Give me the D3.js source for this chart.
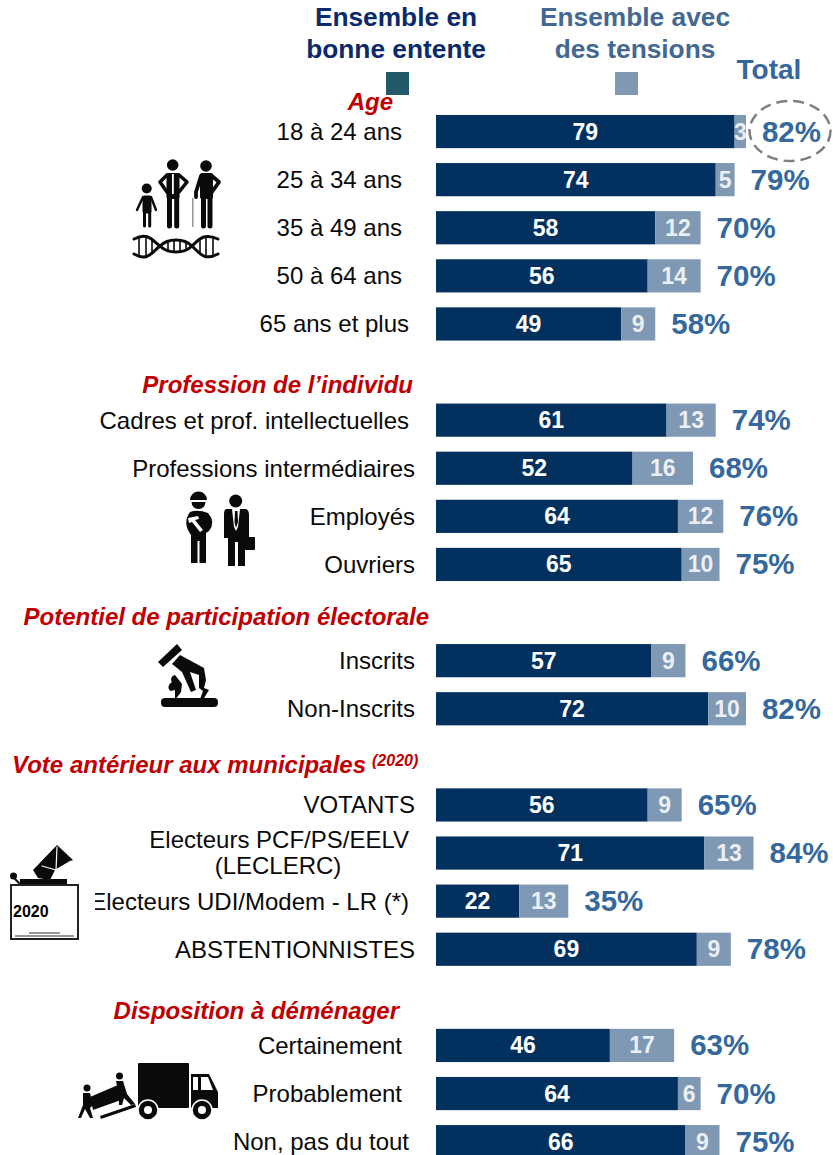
<!DOCTYPE html>
<html><head><meta charset="utf-8">
<script src="https://cdn.jsdelivr.net/npm/d3@7"></script>
<style>html,body{margin:0;padding:0;background:#fff;overflow:hidden}svg{display:block}text{font-family:"Liberation Sans",Arial,sans-serif}</style>
</head><body><svg id="c" width="833" height="1155"></svg>
<script>
const categories=["18 à 24 ans","25 à 34 ans","35 à 49 ans","50 à 64 ans","65 ans et plus",
"Cadres et prof. intellectuelles","Professions intermédiaires","Employés","Ouvriers",
"Inscrits","Non-Inscrits",
"VOTANTS","Electeurs PCF/PS/EELV","Electeurs UDI/Modem - LR (*)","ABSTENTIONNISTES",
"Certainement","Probablement","Non, pas du tout"];
const rowIndex=[0,1,2,3,4,6,7,8,9,11,12,14,15,16,17,19,20,21];
const bonneEntente=[79,74,58,56,49,61,52,64,65,57,72,56,71,22,69,46,64,66];
const avecTensions=[3,5,12,14,9,13,16,12,10,9,10,9,13,13,9,17,6,9];
const totals=[82,79,70,70,58,74,68,76,75,66,82,65,84,35,78,63,70,75];
const labelRight=[402,402,402,402,409,409,415,415,415,415,415,415,409,409,415,402,402,409];
const sections=["Age","Profession de l’individu","Potentiel de participation électorale","Vote antérieur aux municipales","Disposition à déménager"];
const sectionRight=[393,413,429,366,399];
const sectionY=[110,393,625,773,1019];

const svg=d3.select("#c");
const x=d3.scaleLinear().domain([0,100]).range([436,814]);
const y=d3.scaleBand().domain(d3.range(22)).range([107.5,1165.7]).paddingInner(0.31).paddingOuter(0.155);
const NAVY="#03315f",LIGHT="#7f99b4",BLUE="#35689c",RED="#c00000";

// headers
const hdr=(t,cx,yy,col)=>svg.append("text").attr("x",cx).attr("y",yy).attr("text-anchor","middle").attr("font-weight","700").attr("font-size",26.3).attr("fill",col).text(t);
hdr("Ensemble en",396,26,"#0b2a6b");hdr("bonne entente",396,58,"#0b2a6b");
hdr("Ensemble avec",635,26,"#436892");hdr("des tensions",635,58,"#436892");
svg.append("text").attr("x",769).attr("y",79).attr("text-anchor","middle").attr("font-weight","700").attr("font-size",28).attr("fill",BLUE).text("Total");
svg.append("rect").attr("x",386).attr("y",72).attr("width",23).attr("height",23).attr("fill","#235a6b");
svg.append("rect").attr("x",615).attr("y",72).attr("width",23).attr("height",23).attr("fill",LIGHT);

// sections
sections.forEach((s,i)=>svg.append("text").attr("x",sectionRight[i]).attr("y",sectionY[i]).attr("text-anchor","end")
 .attr("font-weight","700").attr("font-style","italic").attr("font-size",24).attr("fill",RED).text(s));
svg.append("text").attr("x",372).attr("y",766).attr("font-weight","700").attr("font-style","italic").attr("font-size",16).attr("fill",RED).text("(2020)");

// bars
const rows=svg.append("g").selectAll("g").data(categories).join("g");
rows.append("rect").attr("x",x(0)).attr("y",(d,i)=>y(rowIndex[i])).attr("height",y.bandwidth())
 .attr("width",(d,i)=>x(bonneEntente[i])-x(0)).attr("fill",NAVY);
rows.append("rect").attr("x",(d,i)=>x(bonneEntente[i])).attr("y",(d,i)=>y(rowIndex[i])).attr("height",y.bandwidth())
 .attr("width",(d,i)=>x(avecTensions[i])-x(0)).attr("fill",LIGHT);
const mid=i=>y(rowIndex[i])+y.bandwidth()/2;
rows.append("text").attr("x",(d,i)=>x(bonneEntente[i]/2)).attr("y",(d,i)=>mid(i)+8).attr("text-anchor","middle")
 .attr("font-weight","700").attr("font-size",23).attr("fill","#fff").text((d,i)=>bonneEntente[i]);
rows.append("text").attr("x",(d,i)=>x(bonneEntente[i]+avecTensions[i]/2)).attr("y",(d,i)=>mid(i)+8).attr("text-anchor","middle")
 .attr("font-weight","700").attr("font-size",23).attr("fill","#fff").attr("fill-opacity",.85).text((d,i)=>avecTensions[i]);
rows.append("text").attr("x",(d,i)=>x(bonneEntente[i]+avecTensions[i])+16).attr("y",(d,i)=>mid(i)+10)
 .attr("font-weight","700").attr("font-size",29.5).attr("fill",BLUE).text((d,i)=>totals[i]+"%");

// category labels
svg.append("defs").append("clipPath").attr("id","cut").append("rect").attr("x",95).attr("y",880).attr("width",330).attr("height",40);
rows.append("text").attr("x",(d,i)=>labelRight[i]).attr("y",(d,i)=>mid(i)+(i==12?-5:8.5)).attr("text-anchor","end")
 .attr("font-size",24).attr("fill","#0a0a0a").attr("clip-path",(d,i)=>i==13?"url(#cut)":null).text(d=>d);
svg.append("text").attr("x",278).attr("y",874).attr("text-anchor","middle").attr("font-size",24).attr("fill","#0a0a0a").text("(LECLERC)");

// highlight ring
svg.append("ellipse").attr("cx",790).attr("cy",131).attr("rx",40.5).attr("ry",30).attr("fill","none").attr("stroke","#7f7f7f").attr("stroke-width",2.5).attr("stroke-dasharray","11 6");

// ---- pictograms (decorative)
const ink="#0a0a0a";
const ic=svg.append("g").attr("fill",ink);
const line=(d,w,col)=>ic.append("path").attr("d",d).attr("fill","none").attr("stroke",col||ink).attr("stroke-width",w).attr("stroke-linecap","round").attr("stroke-linejoin","round");
// child
ic.append("circle").attr("cx",146.7).attr("cy",188.5).attr("r",5);
ic.append("rect").attr("x",142.5).attr("y",195.5).attr("width",9).attr("height",18).attr("rx",2);
line("M143,197L137,210M151,197L156,210",2.4);
line("M144.5,212V226M149.7,212V226",3);
// adult
ic.append("circle").attr("cx",172.7).attr("cy",165).attr("r",5.8);
ic.append("rect").attr("x",166.5).attr("y",173).attr("width",13).attr("height",26).attr("rx",2);
line("M167,175L160,182L167,192M179,175L187,182L179,192",3.6);
line("M169.5,197V226M176.7,197V226",5);
ic.append("rect").attr("x",172).attr("y",174).attr("width",1.8).attr("height",20).attr("fill","#fff");
// elder
ic.append("circle").attr("cx",206).attr("cy",166).attr("r",5.8);
ic.append("rect").attr("x",200).attr("y",173).attr("width",13).attr("height",26).attr("rx",2);
line("M201,176L196,192L196,197M212,176L219,182L212,192",3.8);
line("M203.5,197V226M210,197V226",5);
ic.append("rect").attr("x",192).attr("y",198).attr("width",1.6).attr("height",29).attr("fill","#999");
// DNA
const dna=svg.append("g").attr("fill","none").attr("stroke",ink).attr("stroke-width",3).attr("stroke-linecap","round");
dna.append("path").attr("d","M134,239 C148,232 152,240 160,246 C168,254 184,254 192,246 C200,238 205,233 218,239");
dna.append("path").attr("d","M134,254 C148,262 152,252 160,246 C168,238 184,238 192,246 C200,254 205,261 218,254");
dna.append("path").attr("stroke-width",1.6).attr("d","M139,237V256M146,238V256M152,240V252M168,242V250M174,241V251M180,241V251M186,242V250M200,241V252M206,238V255M213,237V256");
// worker
ic.append("path").attr("d","M190,500 A8.5,8.5 0 0 1 207,500Z");
ic.append("path").attr("d","M191.5,502 L205.5,502 Q205,509 198.5,509 Q192,509 191.5,502Z");
ic.append("path").attr("d","M190,512 Q198,509 208,513 Q216,522 209,531 L206,533 L206,563 L199.5,563 L199.5,541 L197.5,541 L197.5,563 L191,563 L191,535 Q182,523 190,512Z");
ic.append("path").attr("fill","#fff").attr("d","M188,518 L198,516 L199,519 L195,520 L203,530 L200,532 L192,522 L189,523Z");
// businessman
ic.append("circle").attr("cx",235.7).attr("cy",501).attr("r",6.5);
ic.append("path").attr("d","M226,509 L246,509 Q249,510 249,515 L249,538 L245,538 L245,566 L238,566 L238,542 L235,542 L235,566 L228,566 L228,538 L224,538 L224,514 Q224,510 226,509Z");
ic.append("path").attr("fill","#fff").attr("d","M232,509 L240,509 L238,527 L236,531 L234,527Z");
ic.append("path").attr("d","M235,511 L237.5,511 L238,522 L236,528 L234.5,522Z");
ic.append("rect").attr("x",238).attr("y",537).attr("width",17).attr("height",13).attr("rx",1);
// vote hand
ic.append("path").attr("d","M158,662 L177,644 L182,650 L163,667Z");
ic.append("path").attr("d","M172,664 L180,655 L204,668 L206,680 L204,688 L209,690 L201,703 L199,702 L203,691 L199,688 L199,675 L190,672 L196,690 L191,692 L182,672 Z");
ic.append("path").attr("d","M175,675 C170,676 171,681 172,682 C167,685 168,690 171,691 L175,690 L175,700 L181,692 L182,684 Z");
ic.append("rect").attr("x",161).attr("y",698).attr("width",57).attr("height",9).attr("rx",4);
// ballot box
ic.append("path").attr("d","M33,870 L57,845 L73,860 L55,870 L50,880 L38,878Z");
line("M42,866 L56,870 L57,847M56,870 L71,861",1.2,"#fff");
ic.append("rect").attr("x",20).attr("y",879).attr("width",47).attr("height",5);
ic.append("circle").attr("cx",13.5).attr("cy",876).attr("r",3.5);
line("M15,879 L19,883",2);
svg.append("rect").attr("x",11).attr("y",885).attr("width",67).attr("height",54).attr("fill","none").attr("stroke","#222").attr("stroke-width",2);
svg.append("path").attr("d","M15,936H74M29,933H60").attr("stroke","#333").attr("stroke-width",1).attr("fill","none");
svg.append("text").attr("x",13).attr("y",917).attr("font-weight","700").attr("font-size",16).attr("fill","#000").text("2020");
// truck
ic.append("rect").attr("x",138).attr("y",1063).attr("width",51).attr("height",45).attr("rx",1);
ic.append("path").attr("d","M191,1074 L209,1074 L218,1092 L218,1108 L191,1108Z");
ic.append("path").attr("fill","#fff").attr("d","M193,1077 L198,1077 L198,1090 L193,1090Z M201,1077 L208,1077 L213,1090 L201,1090Z");
[148,202].forEach(cx=>{ic.append("circle").attr("cx",cx).attr("cy",1110).attr("r",10).attr("stroke","#fff").attr("stroke-width",1.5);ic.append("circle").attr("cx",cx).attr("cy",1110).attr("r",4).attr("fill","#fff");});
ic.append("path").attr("d","M100,1116 L135,1104 L136,1107 L101,1119Z");
ic.append("path").attr("d","M90,1097 L118,1085 L121,1100 L93,1110Z");
ic.append("circle").attr("cx",87).attr("cy",1088).attr("r",3.5);
ic.append("path").attr("d","M83,1093 L90,1093 L93,1105 L90,1108 L93,1118 L90,1118 L85,1109 L81,1118 L78,1118 L83,1105Z");
ic.append("circle").attr("cx",119.5).attr("cy",1076).attr("r",3.5);
ic.append("path").attr("d","M116,1081 L123,1081 L127,1094 L135,1104 L131,1105 L124,1098 L122,1105 L119,1105 L119,1096Z");
</script></body></html>
